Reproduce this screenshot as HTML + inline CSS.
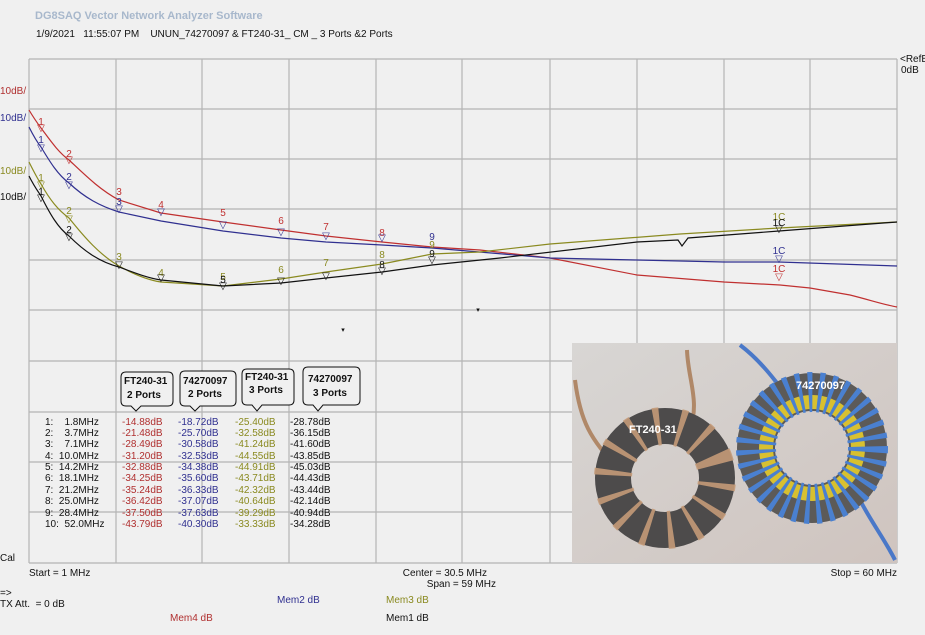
<!DOCTYPE html>
<html><head><meta charset="utf-8"><style>
html,body{margin:0;padding:0;background:#f0f0f0;}
svg{display:block;}
text{font-family:"Liberation Sans",sans-serif;font-size:10px;}
.m{font-size:10px;}
</style></head><body>
<svg width="925" height="635" viewBox="0 0 925 635" xmlns="http://www.w3.org/2000/svg">
<rect width="925" height="635" fill="#f0f0f0"/>
<text x="35" y="19" style="font-size:11px;font-weight:bold" fill="#a8b8cc">DG8SAQ Vector Network Analyzer Software</text>
<text x="36" y="37" fill="#111">1/9/2021 &#160;&#160;11:55:07 PM &#160;&#160;&#160;UNUN_74270097 &amp; FT240-31_ CM _ 3 Ports &amp;2 Ports</text>
<g stroke="#b4b4b4" stroke-width="1.2" fill="none">
<line x1="29" y1="59" x2="897" y2="59"/><line x1="29" y1="109" x2="897" y2="109"/><line x1="29" y1="159" x2="897" y2="159"/><line x1="29" y1="209" x2="897" y2="209"/><line x1="29" y1="260" x2="897" y2="260"/><line x1="29" y1="310" x2="897" y2="310"/><line x1="29" y1="361" x2="897" y2="361"/><line x1="29" y1="412" x2="897" y2="412"/><line x1="29" y1="462" x2="897" y2="462"/><line x1="29" y1="512" x2="897" y2="512"/><line x1="29" y1="563" x2="897" y2="563"/>
<line x1="29" y1="59" x2="29" y2="563"/><line x1="116" y1="59" x2="116" y2="563"/><line x1="202" y1="59" x2="202" y2="563"/><line x1="289" y1="59" x2="289" y2="563"/><line x1="376" y1="59" x2="376" y2="563"/><line x1="462" y1="59" x2="462" y2="563"/><line x1="550" y1="59" x2="550" y2="563"/><line x1="637" y1="59" x2="637" y2="563"/><line x1="724" y1="59" x2="724" y2="563"/><line x1="810" y1="59" x2="810" y2="563"/><line x1="897" y1="59" x2="897" y2="563"/>
</g>
<text x="900" y="62" fill="#111">&lt;RefB</text><text x="901" y="73" fill="#111">0dB</text>
<text x="0" y="94" fill="#b03030">10dB/</text>
<text x="0" y="121" fill="#303090">10dB/</text>
<text x="0" y="174" fill="#8a8a20">10dB/</text>
<text x="0" y="200" fill="#111">10dB/</text>
<g fill="none" stroke-width="1.2">
<path stroke="#c03030" d="M29,110 C35,120 38,124 41,128 C50,140 58,152 69,160 C85,175 100,190 119,200 L161,213 L223,222 L281,230 L326,236 L382,242 L432,247 L480,250 L550,258 L637,275 L724,282 L780,285 L810,288 L850,295 C870,300 885,305 897,307"/>
<path stroke="#303090" d="M29,127 C34,137 37,142 41,147 C50,162 58,175 69,183 C85,198 100,206 119,212 L161,221 L223,231 L281,238 L326,242 L382,245 L432,248 L550,258 L637,260 L724,262 L779,262 L897,266"/>
<path stroke="#8a8a20" d="M29,162 C34,172 37,178 41,184 C50,200 58,210 69,218 C85,238 100,255 119,266 C135,275 148,280 161,282 L223,286 L281,279 L326,272 L382,264 L432,254 L480,252 L550,244 L680,234 L779,228 L897,222"/>
<path stroke="#111" d="M29,176 C34,186 37,190 41,196 C50,214 58,228 69,236 C85,252 100,262 119,267 C135,273 148,278 161,280 L223,286 L281,283 L326,278 L382,272 L432,265 L500,258 L637,242 L678,240 L682,246 L688,238 L779,231 L897,222"/>
</g>
<g class="m" text-anchor="middle">
<g fill="#c03030"><text x="41" y="125">1</text><text x="41" y="131">▽</text><text x="69" y="157">2</text><text x="69" y="163">▽</text><text x="119" y="195">3</text><text x="161" y="208">4</text><text x="223" y="216">5</text><text x="281" y="224">6</text><text x="326" y="230">7</text><text x="382" y="236">8</text><text x="779" y="272">1C</text><text x="779" y="280">▽</text></g>
<g fill="#303090"><text x="41" y="143">1</text><text x="41" y="151">▽</text><text x="69" y="180">2</text><text x="69" y="188">▽</text><text x="119" y="205">3</text><text x="119" y="212">▽</text><text x="161" y="215">▽</text><text x="223" y="228">▽</text><text x="281" y="235">▽</text><text x="326" y="239">▽</text><text x="382" y="241">▽</text><text x="432" y="240">9</text><text x="779" y="254">1C</text><text x="779" y="262">▽</text></g>
<g fill="#8a8a20"><text x="41" y="181">1</text><text x="41" y="188">▽</text><text x="69" y="214">2</text><text x="69" y="222">▽</text><text x="119" y="260">3</text><text x="161" y="276">4</text><text x="223" y="280">5</text><text x="281" y="273">6</text><text x="326" y="266">7</text><text x="382" y="258">8</text><text x="432" y="248">9</text><text x="779" y="220">1C</text></g>
<g fill="#111"><text x="41" y="195">1</text><text x="41" y="201">▽</text><text x="69" y="233">2</text><text x="69" y="240">▽</text><text x="119" y="268">▽</text><text x="161" y="281">▽</text><text x="223" y="283">5</text><text x="223" y="289">▽</text><text x="281" y="284">▽</text><text x="326" y="279">▽</text><text x="382" y="268">8</text><text x="382" y="274">▽</text><text x="432" y="257">9</text><text x="432" y="263">▽</text><text x="779" y="226">1C</text><text x="779" y="232">▽</text></g>
<text x="478" y="312" fill="#111" style="font-size:7px">▾</text>
<text x="343" y="332" fill="#111" style="font-size:7px">▾</text>
</g>
<g fill="#f0f0f0" stroke="#111" stroke-width="1">
<path d="M126,372 H168 Q173,372 173,377 V401 Q173,406 168,406 H141 L136,411 L131,406 H126 Q121,406 121,401 V377 Q121,372 126,372Z"/>
<path d="M185,371 H231 Q236,371 236,376 V401 Q236,406 231,406 H200 L195,411 L190,406 H185 Q180,406 180,401 V376 Q180,371 185,371Z"/>
<path d="M247,369 H289 Q294,369 294,374 V400 Q294,405 289,405 H262 L257,411 L252,405 H247 Q242,405 242,400 V374 Q242,369 247,369Z"/>
<path d="M308,367 H355 Q360,367 360,372 V400 Q360,405 355,405 H323 L318,411 L313,405 H308 Q303,405 303,400 V372 Q303,367 308,367Z"/>
</g>
<g style="font-weight:bold" fill="#111">
<text x="124" y="384">FT240-31</text><text x="127" y="398">2 Ports</text>
<text x="183" y="384">74270097</text><text x="188" y="397">2 Ports</text>
<text x="245" y="380">FT240-31</text><text x="249" y="393">3 Ports</text>
<text x="308" y="382">74270097</text><text x="313" y="396">3 Ports</text>
</g>
<g fill="#111">
<text x="45" y="425">1: &#160;&#160;&#160;1.8MHz</text><text x="45" y="436">2: &#160;&#160;&#160;3.7MHz</text><text x="45" y="447">3: &#160;&#160;&#160;7.1MHz</text><text x="45" y="459">4: &#160;10.0MHz</text><text x="45" y="470">5: &#160;14.2MHz</text><text x="45" y="481">6: &#160;18.1MHz</text><text x="45" y="493">7: &#160;21.2MHz</text><text x="45" y="504">8: &#160;25.0MHz</text><text x="45" y="516">9: &#160;28.4MHz</text><text x="45" y="527">10: &#160;52.0MHz</text>
</g>
<g fill="#b03030"><text x="122" y="425">-14.88dB</text><text x="122" y="436">-21.48dB</text><text x="122" y="447">-28.49dB</text><text x="122" y="459">-31.20dB</text><text x="122" y="470">-32.88dB</text><text x="122" y="481">-34.25dB</text><text x="122" y="493">-35.24dB</text><text x="122" y="504">-36.42dB</text><text x="122" y="516">-37.50dB</text><text x="122" y="527">-43.79dB</text></g>
<g fill="#303090"><text x="178" y="425">-18.72dB</text><text x="178" y="436">-25.70dB</text><text x="178" y="447">-30.58dB</text><text x="178" y="459">-32.53dB</text><text x="178" y="470">-34.38dB</text><text x="178" y="481">-35.60dB</text><text x="178" y="493">-36.33dB</text><text x="178" y="504">-37.07dB</text><text x="178" y="516">-37.63dB</text><text x="178" y="527">-40.30dB</text></g>
<g fill="#8a8a20"><text x="235" y="425">-25.40dB</text><text x="235" y="436">-32.58dB</text><text x="235" y="447">-41.24dB</text><text x="235" y="459">-44.55dB</text><text x="235" y="470">-44.91dB</text><text x="235" y="481">-43.71dB</text><text x="235" y="493">-42.32dB</text><text x="235" y="504">-40.64dB</text><text x="235" y="516">-39.29dB</text><text x="235" y="527">-33.33dB</text></g>
<g fill="#111"><text x="290" y="425">-28.78dB</text><text x="290" y="436">-36.15dB</text><text x="290" y="447">-41.60dB</text><text x="290" y="459">-43.85dB</text><text x="290" y="470">-45.03dB</text><text x="290" y="481">-44.43dB</text><text x="290" y="493">-43.44dB</text><text x="290" y="504">-42.14dB</text><text x="290" y="516">-40.94dB</text><text x="290" y="527">-34.28dB</text></g>
<defs><linearGradient id="bg" x1="0" y1="0" x2="1" y2="1"><stop offset="0" stop-color="#d8d6d4"/><stop offset="1" stop-color="#cfc4bf"/></linearGradient></defs>
<rect x="572" y="343" width="325" height="220" fill="url(#bg)"/>
<path d="M687,350 C688,380 700,400 690,430" stroke="#b08868" stroke-width="4" fill="none"/>
<path d="M575,380 C580,420 590,440 620,470" stroke="#b08868" stroke-width="4" fill="none"/>
<path d="M740,345 C760,360 775,380 790,400" stroke="#4a78c8" stroke-width="4" fill="none"/>
<path d="M860,500 C870,520 885,540 895,560" stroke="#4a78c8" stroke-width="4" fill="none"/>
<circle cx="665" cy="478" r="52" fill="none" stroke="#4d4b4b" stroke-width="36"/>
<circle cx="665" cy="478" r="52" fill="none" stroke="#c49a78" stroke-width="38" stroke-dasharray="5 18" opacity="0.9" transform="rotate(-20 665 478)"/>
<circle cx="812" cy="448" r="56" fill="none" stroke="#5c5a58" stroke-width="38"/>
<circle cx="812" cy="448" r="46" fill="none" stroke="#d8c030" stroke-width="14"/>
<circle cx="812" cy="448" r="56" fill="none" stroke="#4a80d0" stroke-width="40" stroke-dasharray="4 6"/>
<text x="629" y="433" fill="#fff" style="font-weight:bold;font-size:11px">FT240-31</text>
<text x="796" y="389" fill="#fff" style="font-weight:bold;font-size:11px">74270097</text>
<text x="0" y="561" fill="#111">Cal</text>
<text x="29" y="576" fill="#111">Start = 1 MHz</text>
<text x="487" y="576" fill="#111" text-anchor="end">Center = 30.5 MHz</text>
<text x="496" y="587" fill="#111" text-anchor="end">Span = 59 MHz</text>
<text x="897" y="576" fill="#111" text-anchor="end">Stop = 60 MHz</text>
<text x="0" y="596" fill="#111">=&gt;</text>
<text x="0" y="607" fill="#111">TX Att. &#160;= 0 dB</text>
<text x="277" y="603" fill="#303090">Mem2 dB</text>
<text x="386" y="603" fill="#8a8a20">Mem3 dB</text>
<text x="170" y="621" fill="#b03030">Mem4 dB</text>
<text x="386" y="621" fill="#111">Mem1 dB</text>
</svg>
</body></html>
